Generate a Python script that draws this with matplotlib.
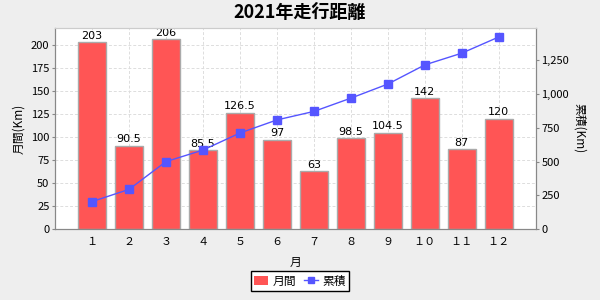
import matplotlib.pyplot as plt
from matplotlib.ticker import FuncFormatter, MultipleLocator
from matplotlib.lines import Line2D
from matplotlib.patches import Patch

plt.rcParams['font.family'] = ['Noto Sans CJK JP', 'DejaVu Sans']

months = ['１', '２', '３', '４', '５', '６', '７', '８', '９', '１０', '１１', '１２']
monthly = [203, 90.5, 206, 85.5, 126.5, 97, 63, 98.5, 104.5, 142, 87, 120]
cumulative = [203, 293.5, 499.5, 585, 711.5, 808.5, 871.5, 970, 1074.5, 1216.5, 1303.5, 1423.5]

bar_color = '#FF5555'
line_color = '#5555FF'
axis_gray = '#888888'

fig = plt.figure(figsize=(6, 3), dpi=100, facecolor='#EEEEEE')
ax = fig.add_axes([0.0917, 0.2367, 0.8013, 0.67])
ax.set_facecolor('white')

x = list(range(1, len(months) + 1))
ax.bar(x, monthly, width=0.75, color=bar_color, edgecolor='#AAAAAA', linewidth=1, zorder=2)
for xi, v in zip(x, monthly):
    ax.text(xi, v + 1.5, f'{v:g}', ha='center', va='bottom', fontsize=8, family='DejaVu Sans', zorder=5)

ax.set_xlim(0, 13)
ax.set_ylim(0, 218.5)
ax.yaxis.set_major_locator(MultipleLocator(25))
ax.set_xticks(x)
ax.set_xticklabels(months, fontsize=8)
ax.tick_params(axis='x', length=0, pad=6)
ax.tick_params(axis='y', labelsize=8, length=2, color=axis_gray, pad=2)
ax.grid(True, color='#DDDDDD', linestyle=(0, (3, 2)), linewidth=0.7, zorder=0)
ax.set_axisbelow(True)
for s in ax.spines.values():
    s.set_color(axis_gray)
ax.spines['top'].set_color('#CCCCCC')
ax.set_ylabel('月間(Km)', fontsize=8.5, labelpad=4)
ax.set_xlabel('月', fontsize=8.5, labelpad=6)

ax2 = ax.twinx()
ax2.plot(x, cumulative, color=line_color, linewidth=1, marker='s', markersize=6, zorder=3)
ax2.set_ylim(0, 1490)
ax2.yaxis.set_major_locator(MultipleLocator(250))
ax2.yaxis.set_major_formatter(FuncFormatter(lambda v, p: f'{v:,.0f}'))
ax2.tick_params(axis='y', labelsize=8, length=2, color=axis_gray, pad=2)
for s in ax2.spines.values():
    s.set_color(axis_gray)
ax2.spines['top'].set_color('#CCCCCC')
ax2.set_ylabel('累積(Km)', fontsize=8.5, rotation=270, labelpad=12)

fig.suptitle('2021年走行距離', fontsize=13, fontweight='bold', y=0.99)

handles = [Patch(facecolor=bar_color, edgecolor='none'),
           Line2D([0], [0], color=line_color, marker='s', markersize=5, linewidth=1)]
leg = fig.legend(handles, ['月間', '累積'], loc='lower center', bbox_to_anchor=(0.5, 0.01),
                 ncol=2, fontsize=8.5, frameon=True, fancybox=False, framealpha=1,
                 edgecolor='black', handlelength=1.2, handletextpad=0.4, columnspacing=0.6,
                 borderpad=0.3)
leg.get_frame().set_linewidth(1)

fig.savefig('out.png', dpi=100, facecolor=fig.get_facecolor())
